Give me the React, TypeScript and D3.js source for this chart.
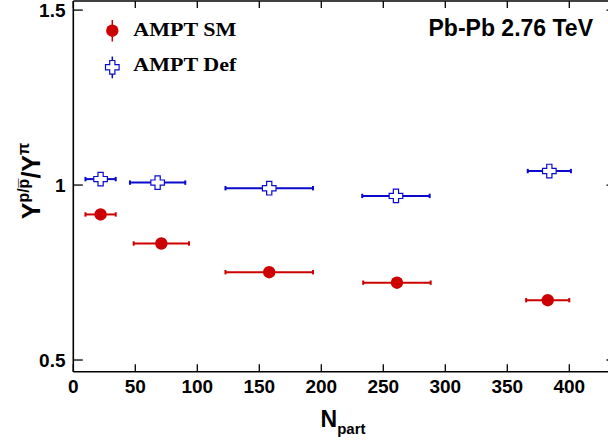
import React from 'react';
import * as d3 from 'd3';

// N_part bins and errors (horizontal)
const npartSM = [22, 71, 158, 261, 382.6];
const npartDef = [22, 68, 158, 260.2, 383.9];
const npartErr = [12.2, 22.3, 35.3, 27.2, 17.4];

// Y(p/pbar) / Y(pi)
const ratioSM = [0.916, 0.833, 0.751, 0.721, 0.671];
const ratioDef = [1.017, 1.007, 0.991, 0.969, 1.04];

const xTicks = [0, 50, 100, 150, 200, 250, 300, 350, 400];
const yTicks = [0.5, 1, 1.5];
const yTickLabels = ['0.5', '1', '1.5'];

const RED = '#cc0000';
const BLUE = '#0a0acc';

const W = 608, H = 445;
const margin = { left: 73.3, right: 616, top: 1, bottom: 371.7 };

const crossPath = (cx: number, cy: number, s = 6.8, a = 2.6) =>
  `M${cx - a},${cy - s}H${cx + a}V${cy - a}H${cx + s}V${cy + a}H${cx + a}V${cy + s}H${cx - a}V${cy + a}H${cx - s}V${cy - a}H${cx - a}Z`;

export default function App() {
  const x = d3.scaleLinear().domain([0, (margin.right - margin.left) / 1.24]).range([margin.left, margin.right]);
  const y = d3.scaleLinear().domain([0.4666, 1.526]).range([margin.bottom, margin.top]);

  const errBar = (xs: number[], ys: number[], color: string) =>
    xs.map((d, i) => {
      const x0 = x(d - npartErr[i]), x1 = x(d + npartErr[i]), yy = y(ys[i]);
      return (
        <g key={i} stroke={color} strokeWidth={2}>
          <line x1={x0} x2={x1} y1={yy} y2={yy} />
          <line x1={x0} x2={x0} y1={yy - 2.2} y2={yy + 2.2} />
          <line x1={x1} x2={x1} y1={yy - 2.2} y2={yy + 2.2} />
        </g>
      );
    });

  return (
    <svg width={W} height={H} style={{ position: 'absolute', left: 0, top: 0, display: 'block', background: '#fff' }}>
      {/* frame */}
      <g stroke="#000" strokeWidth={1.6} fill="none">
        <line x1={margin.left} x2={margin.left} y1={margin.top} y2={margin.bottom} />
        <line x1={margin.left} x2={margin.right} y1={margin.bottom} y2={margin.bottom} />
        <line x1={margin.left} x2={margin.right} y1={margin.top} y2={margin.top} />
        <line x1={margin.right} x2={margin.right} y1={margin.top} y2={margin.bottom} />
      </g>
      <g stroke="#000" strokeWidth={1.3}>
        {xTicks.map(t => (
          <g key={t}>
            <line x1={x(t)} x2={x(t)} y1={margin.bottom} y2={margin.bottom - 7.5} />
            <line x1={x(t)} x2={x(t)} y1={margin.top} y2={margin.top + 7} />
          </g>
        ))}
        {yTicks.map(t => (
          <g key={t}>
            <line x1={margin.left} x2={margin.left + 9.5} y1={y(t)} y2={y(t)} />
            <line x1={margin.right} x2={margin.right - 9.5} y1={y(t)} y2={y(t)} />
          </g>
        ))}
      </g>
      <g fontFamily="'Liberation Sans', Arial, sans-serif" fontWeight="bold" fontSize={19} fill="#000">
        {xTicks.map(t => (
          <text key={t} x={x(t)} y={393} textAnchor="middle">{t}</text>
        ))}
        {yTicks.map((t, i) => (
          <text key={t} x={65.5} y={y(t)} dy="0.36em" textAnchor="end">{yTickLabels[i]}</text>
        ))}
      </g>

      {/* axis titles */}
      <text x={320.5} y={427} fontFamily="'Liberation Sans', Arial, sans-serif" fontWeight="bold" fontSize={23}>
        N<tspan fontSize={15} dy={7}>part</tspan>
      </text>
      <text transform="translate(40,181) rotate(-90)" textAnchor="middle"
        fontFamily="'Liberation Sans', Arial, sans-serif" fontWeight="bold" fontSize={25}>
        Y<tspan fontSize={16} dy={-11}>p/p&#x0305;</tspan><tspan dy={11}>/Y</tspan><tspan fontSize={16} dy={-11}>π</tspan>
      </text>

      {/* data */}
      {errBar(npartDef, ratioDef, BLUE)}
      {errBar(npartSM, ratioSM, RED)}
      {npartDef.map((d, i) => (
        <path key={i} d={crossPath(x(d), y(ratioDef[i]))} fill="#fff" stroke={BLUE} strokeWidth={1.2} />
      ))}
      {npartSM.map((d, i) => (
        <circle key={i} cx={x(d)} cy={y(ratioSM[i])} r={6.2} fill={RED} />
      ))}

      {/* legend */}
      <line x1={112.3} x2={112.3} y1={20} y2={41.5} stroke={RED} strokeWidth={1.5} />
      <circle cx={112.3} cy={30.7} r={6.2} fill={RED} />
      <line x1={112.3} x2={112.3} y1={56.5} y2={78.3} stroke={BLUE} strokeWidth={1.5} />
      <path d={crossPath(112.3, 67.3)} fill="#fff" stroke={BLUE} strokeWidth={1.2} />
      <g fontFamily="'Liberation Serif', 'Times New Roman', serif" fontWeight="bold" fontSize={19}>
        <text x={133.3} y={35.5} textLength={103} lengthAdjust="spacingAndGlyphs">AMPT SM</text>
        <text x={133.3} y={71} textLength={103} lengthAdjust="spacingAndGlyphs">AMPT Def</text>
      </g>
      <text x={593} y={36} textAnchor="end" fontFamily="'Liberation Sans', Arial, sans-serif" fontWeight="bold" fontSize={23}>
        Pb-Pb 2.76 TeV
      </text>
    </svg>
  );
}
